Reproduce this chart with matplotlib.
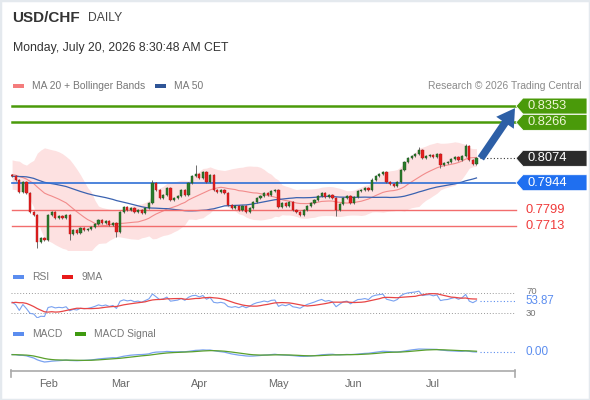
import numpy as np
import pandas as pd
import matplotlib
matplotlib.use("Agg")
import matplotlib.pyplot as plt
from matplotlib.patches import Polygon, Rectangle
import matplotlib.transforms as mtransforms

plt.rcParams['font.family'] = ['Liberation Sans', 'DejaVu Sans']

# ---- data ----
start_date = '2026-01-19'
end_date = '2026-07-17'

# closes before the visible window, only used to warm up the indicators
warmup_closes = [0.7935, 0.7950, 0.7968, 0.7952, 0.7975, 0.7990, 0.8005, 0.7988, 0.7972, 0.7960,
                 0.7945, 0.7930, 0.7948, 0.7966, 0.7985, 0.8002, 0.8018, 0.8030, 0.8012, 0.7995,
                 0.7980, 0.7962, 0.7948, 0.7935, 0.7920, 0.7938, 0.7955, 0.7970, 0.7990, 0.8008,
                 0.8025, 0.8040, 0.8058, 0.8045, 0.8030, 0.8012, 0.7996, 0.7978, 0.7960, 0.7945,
                 0.7930, 0.7918, 0.7935, 0.7952, 0.7970, 0.7988, 0.8005, 0.7998, 0.7985]

closes = [0.7980, 0.7958, 0.7894, 0.7948, 0.7889, 0.7788, 0.7772, 0.7628, 0.7649, 0.7638,
          0.7772, 0.7788, 0.7756, 0.7766, 0.7756, 0.7772, 0.7670, 0.7692, 0.7676, 0.7702,
          0.7692, 0.7697, 0.7708, 0.7724, 0.7745, 0.7729, 0.7740, 0.7718, 0.7729, 0.7681,
          0.7788, 0.7814, 0.7798, 0.7809, 0.7788, 0.7798, 0.7782, 0.7809, 0.7836, 0.7942,
          0.7905, 0.7862, 0.7878, 0.7916, 0.7852, 0.7862, 0.7873, 0.7905, 0.7878, 0.7942,
          0.7980, 0.7990, 0.7969, 0.8001, 0.7948, 0.7985, 0.7905, 0.7894, 0.7905, 0.7889,
          0.7825, 0.7809, 0.7820, 0.7798, 0.7820, 0.7788, 0.7809, 0.7841, 0.7862, 0.7873,
          0.7889, 0.7878, 0.7900, 0.7905, 0.7814, 0.7836, 0.7820, 0.7841, 0.7798, 0.7788,
          0.7772, 0.7798, 0.7820, 0.7836, 0.7852, 0.7873, 0.7889, 0.7868, 0.7878, 0.7862,
          0.7798, 0.7830, 0.7862, 0.7873, 0.7836, 0.7868, 0.7900, 0.7905, 0.7916, 0.7905,
          0.7958, 0.7980, 0.7990, 0.8001, 0.7948, 0.7937, 0.7926, 0.7948, 0.8012, 0.8054,
          0.8075, 0.8086, 0.8097, 0.8118, 0.8075, 0.8086, 0.8092, 0.8081, 0.8097, 0.8038,
          0.8049, 0.8054, 0.8070, 0.8081, 0.8065, 0.8086, 0.8140, 0.8065, 0.8044, 0.8074]
first_open = 0.7985
wick = 0.0007
spike_highs = {39: 0.7958, 51: 0.8036, 100: 0.7968, 113: 0.8136, 126: 0.8152}
spike_lows = {7: 0.7596, 16: 0.7640, 29: 0.7655, 90: 0.7768, 119: 0.8022}

resistances = [0.8353, 0.8266]
pivot = 0.7944
supports = [0.7799, 0.7713]
last_price = 0.8074
rsi_last = '53.87'
macd_last = '0.00'

# ---- indicators ----
allc = pd.Series(warmup_closes + closes)
n0 = len(warmup_closes)
ma20 = allc.rolling(20).mean()
sd20 = allc.rolling(20).std(ddof=0)
ma50 = allc.rolling(50, min_periods=20).mean()
up = ma20 + 2 * sd20
lo = ma20 - 2 * sd20
d = allc.diff()
g = d.clip(lower=0).ewm(alpha=1 / 14, adjust=False).mean()
ls = (-d.clip(upper=0)).ewm(alpha=1 / 14, adjust=False).mean()
rsi = 100 - 100 / (1 + g / ls)
rsi9 = rsi.rolling(9).mean()
macd = allc.ewm(span=12, adjust=False).mean() - allc.ewm(span=26, adjust=False).mean()
sig = macd.ewm(span=9, adjust=False).mean()

ma20, up, lo, ma50 = [s.iloc[n0:].values for s in (ma20, up, lo, ma50)]
rsi, rsi9, macd, sig = [s.iloc[n0:].values for s in (rsi, rsi9, macd, sig)]

dates = pd.bdate_range(start_date, end_date)
x = np.arange(len(closes))
c = np.array(closes)
o = np.r_[first_open, c[:-1]]
h = np.maximum(o, c) + wick
l = np.minimum(o, c) - wick
for k, v in spike_highs.items():
    h[k] = v
for k, v in spike_lows.items():
    l[k] = v

# ---- figure ----
W, H = 590, 400
fig = plt.figure(figsize=(W / 100, H / 100), dpi=100)
fig.patch.set_facecolor('white')
fig.add_artist(Rectangle((0, 0), 1, 1, transform=fig.transFigure, fill=False,
                         edgecolor='#e4e9ee', lw=2.5))


def fx(px):
    return px / W


def fy(py):
    return 1 - py / H


XL = (-0.3, 139.7)
axw = fx(515) - fx(11)

fig.text(fx(12), fy(18), 'USD/CHF', fontsize=11, fontweight='bold', color='#333333', va='center')
fig.text(fx(88), fy(18), 'DAILY', fontsize=8.7, color='#444444', va='center')
fig.text(fx(13), fy(48), 'Monday, July 20, 2026 8:30:48 AM CET', fontsize=8.8, color='#333333', va='center')


def legend_item(px, py, color, label, w=11):
    fig.add_artist(Rectangle((fx(px), fy(py + 2)), fx(w), 4 / H, transform=fig.transFigure,
                             facecolor=color, edgecolor='none'))
    fig.text(fx(px + w + 8), fy(py), label, fontsize=7.4, color='#777777', va='center')


legend_item(13, 86, '#f47c7c', 'MA 20 + Bollinger Bands')
legend_item(155, 86, '#2f5597', 'MA 50')
fig.text(fx(581), fy(86), 'Research \u00a9 2026 Trading Central', fontsize=7.4, color='#8a8a8a',
         va='center', ha='right')
legend_item(13, 277, '#5b8def', 'RSI')
legend_item(62, 277, '#e81a1a', '9MA')
legend_item(13, 334, '#5b8def', 'MACD')
legend_item(75, 334, '#3f9a10', 'MACD Signal')

# price panel
ax = fig.add_axes([fx(11), fy(250), axw, 155 / H])
ax.set_xlim(*XL)
ax.set_ylim(0.7585, 0.8412)
ax.axis('off')
bt = mtransforms.blended_transform_factory(fig.transFigure, ax.transData)

ax.fill_between(x, lo, up, color='#fde1e1', lw=0, zorder=1)
ax.plot(x, ma20, color='#f28b8b', lw=0.8, zorder=2)
ax.plot(x, ma50, color='#3a62b0', lw=0.9, zorder=2)

for lv in resistances:
    ax.plot([fx(12), fx(517)], [lv, lv], transform=bt, color='#4a9a0a', lw=1.8, clip_on=False, zorder=3)
ax.plot([fx(12), fx(517)], [pivot, pivot], transform=bt, color='#2f6fd6', lw=1.2, clip_on=False, zorder=3)
for lv in supports:
    ax.plot([fx(12), fx(516)], [lv, lv], transform=bt, color='#f26d6d', lw=1.0, clip_on=False, zorder=3)
ax.plot([x[-1] + 1, XL[1]], [last_price, last_price], color='#333333', lw=0.8, ls=(0, (1, 2)), zorder=3)

up_c = c >= o
cols = np.where(up_c, '#2b7d2b', '#e21f1f')
ax.vlines(x, l, h, colors='#555555', lw=0.6, zorder=4)
ax.bar(x, np.maximum(np.abs(c - o), 0.00025), bottom=np.minimum(o, c), width=0.62,
       color=cols, edgecolor=np.where(up_c, '#1d4f1d', '#b01515'), lw=0.3, zorder=5)

ax.annotate('', xy=(XL[1], resistances[0] - 0.0011), xytext=(x[-1] + 1.2, last_price),
            arrowprops=dict(arrowstyle='simple,head_width=0.9,head_length=0.75,tail_width=0.32',
                            mutation_scale=17, color='#2d5fa6', lw=0, shrinkA=0, shrinkB=0),
            annotation_clip=False, zorder=6)

half = 8 / 1875


def tag(level, text, face, tcolor):
    pts = [(fx(516), level), (fx(523), level + half), (fx(587), level + half),
           (fx(587), level - half), (fx(523), level - half)]
    ax.add_patch(Polygon(pts, closed=True, transform=bt, facecolor=face, edgecolor='white',
                         lw=0.6, clip_on=False, zorder=7))
    ax.text(fx(527), level, text, transform=bt, va='center', ha='left', color=tcolor,
            fontsize=9.3, clip_on=False, zorder=8)


tag(resistances[0], '%.4f' % resistances[0], '#4a9a0a', '#eef5d6')
tag(resistances[1], '%.4f' % resistances[1], '#4a9a0a', '#eef5d6')
tag(last_price, '%.4f' % last_price, '#2b2b2b', 'white')
tag(pivot, '%.4f' % pivot, '#1f6ff0', 'white')
for lv in supports:
    ax.text(fx(526), lv, '%.4f' % lv, transform=bt, va='center', ha='left', color='#f03a3a',
            fontsize=9.3, clip_on=False)

# RSI panel
ar = fig.add_axes([fx(11), fy(318), axw, 30 / H])
ar.set_xlim(*XL)
ar.set_ylim(20, 80)
ar.axis('off')
for lv in (70, 30):
    ar.plot(XL, [lv, lv], color='#999999', lw=0.7, ls=(0, (1, 2)))
ar.plot(x, rsi, color='#7aa2f0', lw=0.8)
ar.plot(x, rsi9, color='#e84545', lw=0.9)
ar.plot([x[-1] + 1, XL[1]], [float(rsi_last)] * 2, color='#5b8def', lw=0.8, ls=(0, (1, 2)))
rt = mtransforms.blended_transform_factory(fig.transFigure, ar.transData)
ar.text(fx(526), 72, '70', transform=rt, fontsize=6.8, color='#777777', va='center', clip_on=False)
ar.text(fx(526), 28, '30', transform=rt, fontsize=6.8, color='#777777', va='center', clip_on=False)
ar.text(fx(525), float(rsi_last), rsi_last, transform=rt, fontsize=8.3, color='#5b8def',
        va='center', clip_on=False)

# MACD panel
am = fig.add_axes([fx(11), fy(371), axw, 29 / H])
am.set_xlim(*XL)
mn = min(macd.min(), sig.min())
s = (macd[-1] - mn) / 10
am.set_ylim(mn - 9 * s, macd[-1] + 10 * s)
am.plot(x, macd, color='#7aa2f0', lw=0.9)
am.plot(x, sig, color='#5aa02c', lw=0.9)
am.plot([x[-1] + 1, XL[1]], [macd[-1]] * 2, color='#5b8def', lw=0.8, ls=(0, (1, 2)))
mt = mtransforms.blended_transform_factory(fig.transFigure, am.transData)
am.text(fx(525), macd[-1], macd_last, transform=mt, fontsize=8.5, color='#5b8def',
        va='center', clip_on=False)
for sp in ('top', 'left', 'right'):
    am.spines[sp].set_visible(False)
am.spines['bottom'].set_color('#aaaaaa')
am.spines['bottom'].set_linewidth(1.2)
am.set_yticks([])
month_pos = [i for i in range(1, len(dates)) if dates[i].month != dates[i - 1].month]
am.set_xticks(month_pos)
am.set_xticklabels([dates[i].strftime('%b') for i in month_pos], fontsize=7.8, color='#666666')
am.tick_params(axis='x', length=0, pad=6)
for px in (11, 515):
    fig.add_artist(plt.Line2D([fx(px), fx(px)], [fy(370), fy(377)], transform=fig.transFigure,
                              color='#aaaaaa', lw=1.2))

fig.savefig('out.png', dpi=100)
